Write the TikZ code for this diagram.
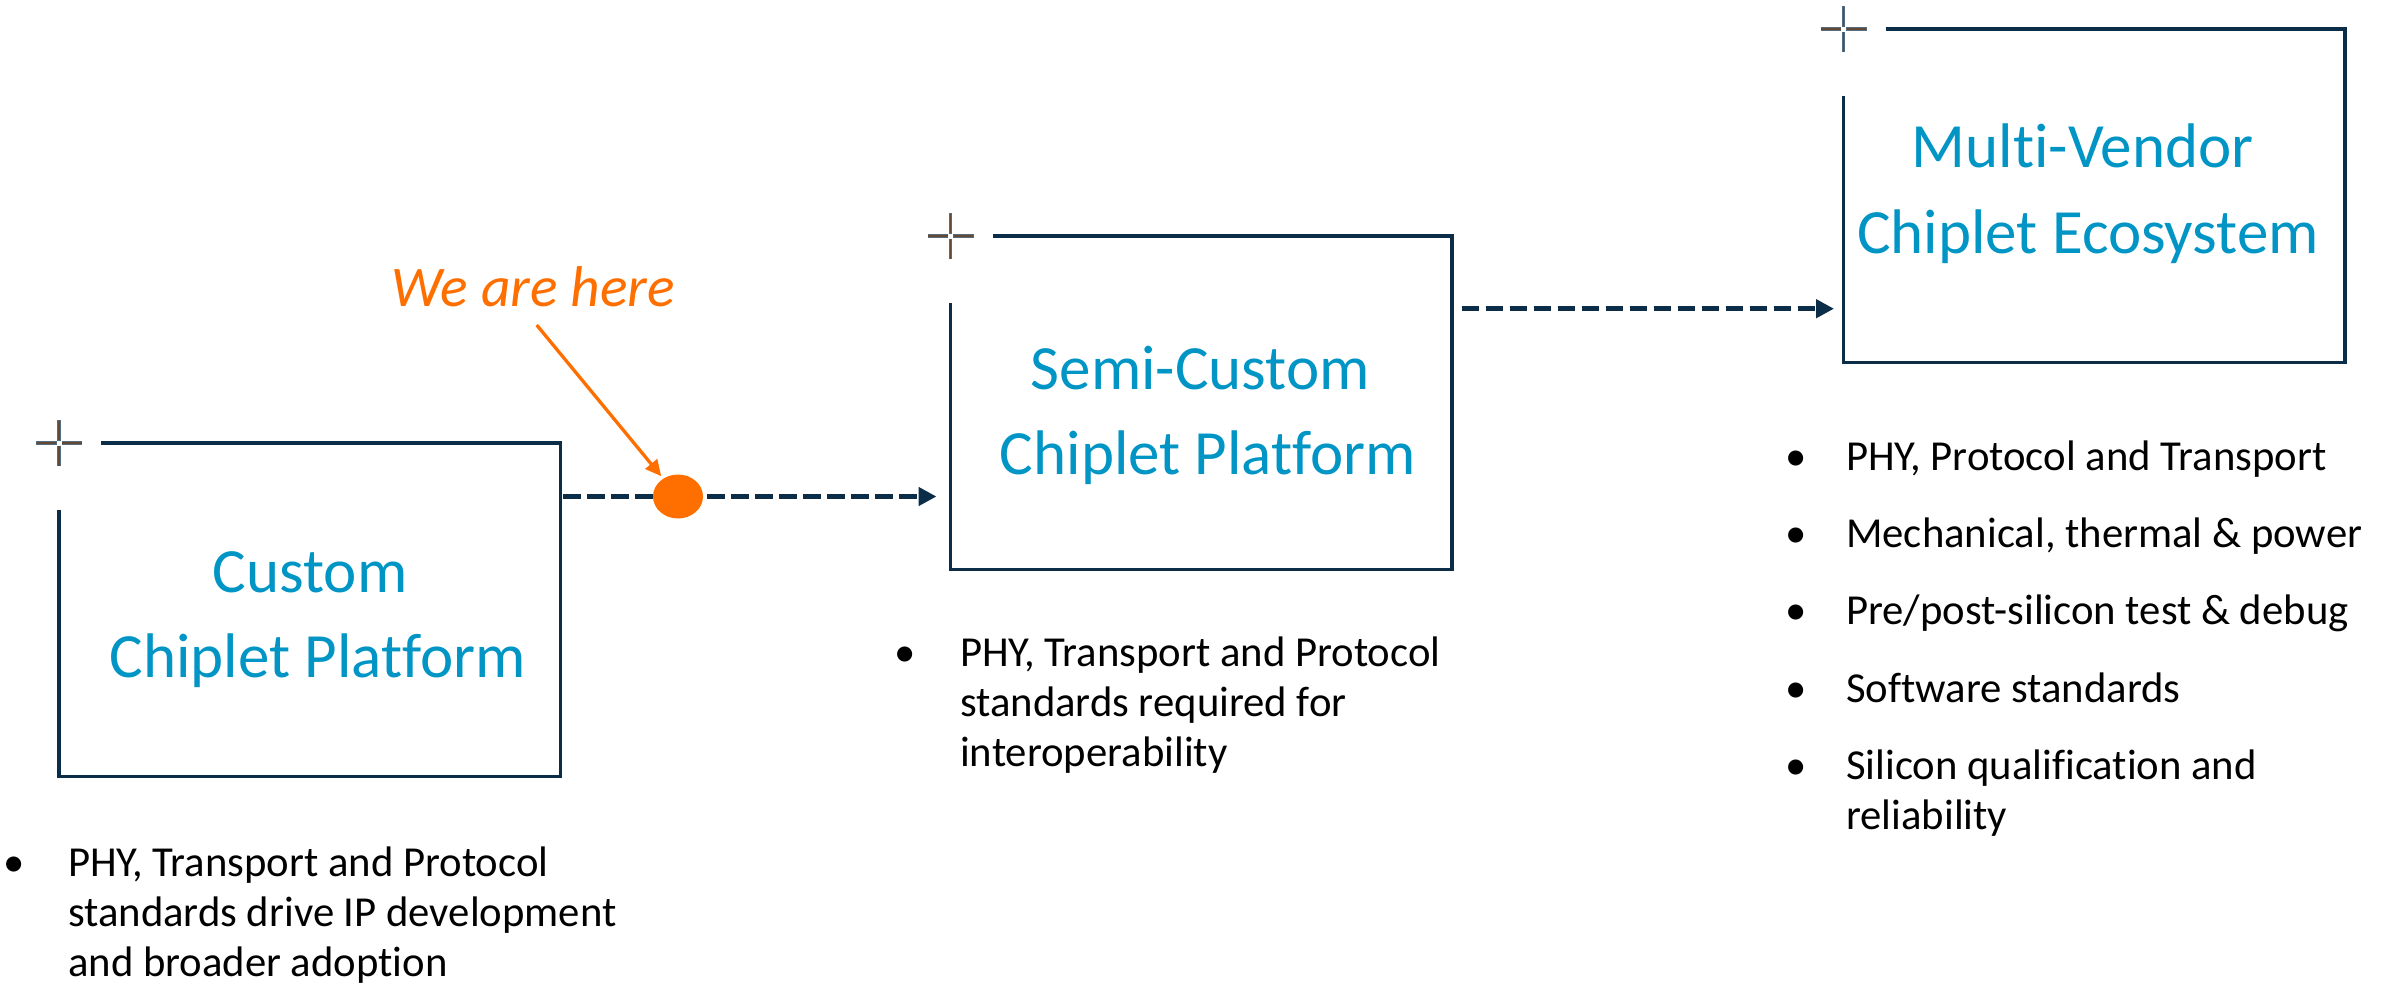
\documentclass[tikz,border=0pt]{standalone}
\usepackage{fontspec}
\setmainfont{Carlito}[Ligatures=CommonOff]
\usetikzlibrary{arrows.meta,shapes.geometric}
\definecolor{navy}{RGB}{12,45,72}
\definecolor{titleblue}{RGB}{0,149,197}
\definecolor{orng}{RGB}{255,111,0}
\definecolor{crossbrown}{RGB}{100,74,52}
\begin{document}
\begin{tikzpicture}[x=1pt,y=-1pt,
  boxnode/.style={minimum width=501pt,minimum height=333pt,inner sep=0pt,anchor=north west},
  boxline/.style={draw=navy,line width=3.4pt,line join=miter},
  title/.style={font=\fontsize{63}{85}\selectfont,text=titleblue,inner sep=0pt,anchor=base},
  body/.style={font=\fontsize{42.7}{50}\selectfont,inner sep=0pt,anchor=base west,align=left},
  bul/.style={font=\fontsize{42.7}{50}\selectfont,inner sep=0pt,anchor=base},
  flow/.style={draw=navy,line width=5.5pt,dash pattern=on 17.5pt off 6.5pt,-{Triangle[length=18pt,width=18pt]}},
  pointer/.style={draw=orng,line width=3.3pt,-{Triangle[length=16pt,width=15pt]},shorten >=3pt},
  marker/.style={ellipse,fill=orng,minimum width=50pt,minimum height=44pt,inner sep=0pt},
  heretext/.style={font=\fontsize{57.5}{60}\selectfont\itshape,text=orng,inner sep=0pt,anchor=base},
  crossout/.style={draw=navy!70,line width=3.4pt},
  crossin/.style={draw=crossbrown,line width=1.8pt},
  crosshair/.pic={
    \draw[crossout] (-23,0) -- (-2.5,0) (2.5,0) -- (23,0) (0,-23) -- (0,-2.5) (0,2.5) -- (0,23);
    \draw[crossin] (-22.5,0) -- (-3,0) (3,0) -- (22.5,0) (0,-22.5) -- (0,-3) (0,3) -- (0,22.5);
  }
]
\useasboundingbox (0,0) rectangle (2387,986);

% boxes
\node[boxnode] (b1) at (59,443) {};
\node[boxnode] (b2) at (950.5,236) {};
\node[boxnode] (b3) at (1843.5,29) {};
\foreach \b in {b1,b2,b3}{
  \draw[boxline] ([xshift=42pt]\b.north west) -- (\b.north east) -- (\b.south east) -- (\b.south west) -- ([yshift=-67pt]\b.north west);
  \pic at (\b.north west) {crosshair};
}

% titles
\node[title] (t1a) at (310,592.7) {Custom};
\node[title] (t1b) at (317.6,677.3) {Chiplet Platform};
\node[title] (t2a) at (1200.4,389.3) {Semi-Custom};
\node[title] (t2b) at (1208,474) {Chiplet Platform};
\node[title] (t3a) at (2082.7,167.7) {Multi-Vendor};
\node[title] (t3b) at (2088,253.3) {Chiplet Ecosystem};

% connectors
\coordinate (m) at (678,496.5);
\coordinate (l2) at (1600,308.7);
\draw[flow,shorten <=3pt,shorten >=14pt] (b1.east |- m) -- (b2.west |- m);
\draw[flow,shorten <=10pt,shorten >=9.5pt] (b2.east |- l2) -- (b3.west |- l2);
\node[marker] (dot) at (m) {};

% we are here
\node[heretext] (here) at (533.3,306.7) {We are here};
\coordinate (hs) at (536.7,325);
\draw[pointer] (hs) -- (dot);

% bullet texts (multi-line nodes: base = last line)
\node[bul] (p1) at (14,876.7) {•};
\node[body] (x1) at (68,976.7) {PHY, Transport and Protocol\\standards drive IP development\\and broader adoption};
\node[bul] (p2) at (905,666.7) {•};
\node[body] (x2) at (960,766.7) {PHY, Transport and Protocol\\standards required for\\interoperability};

\node[bul] (q1) at (1796,470) {•};
\node[body] (y1) at (1846,470) {PHY, Protocol and Transport};
\node[bul] (q2) at (1796,547) {•};
\node[body] (y2) at (1846,547) {Mechanical, thermal \& power};
\node[bul] (q3) at (1796,624) {•};
\node[body] (y3) at (1846,624) {Pre/post-silicon test \& debug};
\node[bul] (q4) at (1796,702) {•};
\node[body] (y4) at (1846,702) {Software standards};
\node[bul] (q5) at (1796,779) {•};
\node[body] (y5) at (1846,829) {Silicon qualification and\\reliability};
\end{tikzpicture}
\end{document}
